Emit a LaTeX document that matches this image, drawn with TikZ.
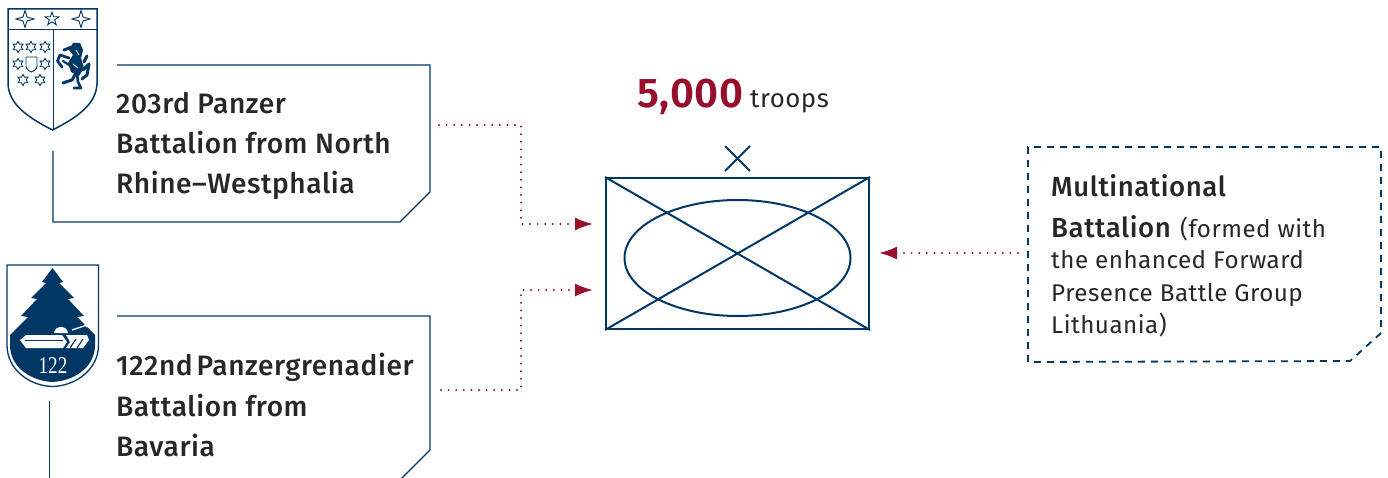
\documentclass[tikz,border=0pt]{standalone}
\usepackage{fontspec}
\setmainfont{Fira Sans}[LetterSpace=2]
\newfontfamily\medfont{Fira Sans Medium}[LetterSpace=2]
\newfontfamily\heavyfont{Fira Sans SemiBold}[LetterSpace=2]
\newfontfamily\romannum{Liberation Serif}
\definecolor{navy}{HTML}{003764}
\definecolor{crimson}{HTML}{970F2C}
\definecolor{ink}{HTML}{27272A}
\usetikzlibrary{arrows.meta}
\tikzset{
  x=1pt,y=-1pt,
  boxline/.style={draw=navy,line width=1.3pt},
  symline/.style={draw=navy,line width=2pt},
  dashbox/.style={draw=navy,line width=1.8pt,dash pattern=on 7pt off 6pt},
  link/.style={draw=crimson,line width=2.2pt,line cap=round,dash pattern=on 0pt off 7.6pt,-{Latex[length=18pt,width=13pt,color=crimson]}},
  boxlabel/.style={anchor=base west,inner sep=0pt,text=ink,font=\fontsize{28.1}{28.1}\medfont},
  sidelabel/.style={anchor=base west,inner sep=0pt,text=ink,font=\fontsize{27.6}{27.6}\medfont},
  plaintext/.style={anchor=base west,inner sep=0pt,text=ink,font=\fontsize{24.2}{24.2}\selectfont},
  starline/.style={draw=navy,line width=.9pt,fill=white},
  horse/.style={draw=navy,line cap=round,line join=round},
  pics/four/.style={code={\draw[starline] (0,-8.5) -- (2,-2) -- (9,0) -- (2,2) -- (0,8.5) -- (-2,2) -- (-9,0) -- (-2,-2) -- cycle;}},
  pics/five/.style={code={\draw[starline] (0,-7) -- (1.7,-2.2) -- (6.8,-2.2) -- (2.7,.9) -- (4.2,5.8) -- (0,2.8) -- (-4.2,5.8) -- (-2.7,.9) -- (-6.8,-2.2) -- (-1.7,-2.2) -- cycle;}},
  pics/six/.style={code={\draw[starline] (0,-5.5) -- (1.6,-2.8) -- (4.8,-2.8) -- (3.2,0) -- (4.8,2.8) -- (1.6,2.8) -- (0,5.5) -- (-1.6,2.8) -- (-4.8,2.8) -- (-3.2,0) -- (-4.8,-2.8) -- (-1.6,-2.8) -- cycle;}},
}
\begin{document}
\begin{tikzpicture}
\useasboundingbox (0,0) rectangle (1388,478);
\clip (0,0) rectangle (1388,478);

% first shield
\draw[navy,line width=1.5pt,fill=white] (8,9) -- (97,9) -- (97,84) .. controls (96,105) and (76,118) .. (52.5,130) .. controls (29,118) and (9,105) .. (8,84) -- cycle;
\draw[navy,line width=1pt] (8,30) -- (97,30) (53,30) -- (53,130);
\pic at (25,19) {four};
\pic at (52,19) {five};
\pic at (81,19) {four};
\foreach \px/\py in {18/47,31/47,45/47,18/64,45/64,23/80,40/80} \pic at (\px,\py) {six};
\draw[navy,line width=.9pt] (26,57) -- (37,57) -- (37,66) .. controls (37,70) and (33,71) .. (31.5,72) .. controls (30,71) and (26,70) .. (26,66) -- cycle;
% horse
\fill[navy] (69,50) -- (73,43) -- (80,43) -- (83,50) -- (81,58) -- (84,68) -- (79,76) -- (71,72) -- (68,63) -- (73,55) -- cycle;
\draw[horse,line width=3pt] (64,50) -- (72,47);
\draw[horse,line width=2.8pt] (69,58) -- (60,55) -- (57.5,61) -- (62,67);
\draw[horse,line width=2.2pt] (69,65) -- (63,61);
\draw[horse,line width=3pt] (76,73) -- (72,80) -- (63,83);
\draw[horse,line width=2.6pt] (77,73) -- (78,82) -- (81,88) -- (74,88);
\draw[horse,line width=3pt] (84,62) -- (87,56) (83,70) -- (89,64) -- (87,75) -- (82,79);
\draw[white,line width=.8pt] (73,64) -- (78,68) (76,50) -- (79,55);

% second shield
\draw[navy,line width=1.3pt,fill=white] (7,265) -- (98.5,265) -- (98.5,345) .. controls (98.5,370) and (75,386) .. (52.5,386.5) .. controls (30,386) and (7,370) .. (7,345) -- cycle;
\fill[navy] (52.5,268) -- (63,282) -- (59,283) -- (74,298) -- (68,299) -- (84,316) -- (77,317) -- (95,335) -- (95,345) .. controls (95,368) and (73,381) .. (52.5,382) .. controls (32,381) and (10,368) .. (10,345) -- (10,335) -- (28,317) -- (21,316) -- (37,299) -- (31,298) -- (46,283) -- (42,282) -- cycle;
\fill[white] (54,333) .. controls (55,325) and (67,325) .. (68,333) -- cycle;
\draw[white,line width=1.4pt] (72,330) -- (93,323) (84,322) -- (87,327);
\fill[white] (20,340) -- (26,335) -- (62,335) -- (67,342) -- (63,348) -- (26,348) -- cycle;
\fill[white] (66,335) -- (87,335) -- (89,340) -- (83,348) -- (66,348) -- (70,342) -- cycle;
\draw[navy,line width=.8pt] (25,340) -- (63,340);
\draw[navy,line width=1.2pt] (70,348) -- (76,339) (77,348) -- (83,339);
\node[inner sep=0pt,text=white,font=\fontsize{24}{24}\romannum] (num) at (53,366) {\scalebox{.8}[1]{122}};

% boxes
\path[boxline] (117,65) -- (430,65) -- (430,192) -- (400,222) -- (53,222) -- (53,151);
\path[boxline] (117,316) -- (430,316) -- (430,450) -- (402,478) -- (402,490);
\path[boxline] (49.5,401) -- (49.5,480);
\path[dashbox] (1028,362) -- (1028,147) -- (1381,147) -- (1381,333) -- (1350,361) -- cycle;

\node[boxlabel] (ta1) at (116,114) {203rd Panzer};
\node[boxlabel] (ta2) at (116,154) {Battalion from North};
\node[boxlabel] (ta3) at (116,194) {Rhine–Westphalia};
\node[boxlabel] (tb1) at (116,375.5) {122nd\hspace{4pt}Panzergrenadier};
\node[boxlabel] (tb2) at (116,416.5) {Battalion from};
\node[boxlabel] (tb3) at (116,456.5) {Bavaria};
\node[sidelabel] (tc1) at (1051,197) {Multinational};
\node[sidelabel] (tc2) at (1051,237) {Battalion};
\node[plaintext] (tc3) at (1180,237) {(formed with};
\node[plaintext] (tc4) at (1051,269) {the enhanced Forward};
\node[plaintext] (tc5) at (1051,301) {Presence Battle Group};
\node[plaintext] (tc6) at (1051,333) {Lithuania)};

% unit symbol
\node[symline,minimum width=263pt,minimum height=151pt,inner sep=0pt] (unit) at (737.5,253.5) {};
\draw[symline] (unit.north west) -- (unit.south east) (unit.north east) -- (unit.south west);
\draw[symline] (737.5,258) ellipse [x radius=113,y radius=58];
\coordinate (xa) at (725,146); \coordinate (xb) at (750,171);
\coordinate (xc) at (750,146); \coordinate (xd) at (725,171);
\draw[navy,line width=1.8pt] (xa) -- (xb) (xc) -- (xd);

\node[anchor=base west,inner sep=0pt,text=crimson,font=\fontsize{41.5}{41.5}\heavyfont] (num5) at (637,108) {5,000};
\node[plaintext,font=\fontsize{25.8}{25.8}\selectfont] (troops) at (750,108) {troops};

% connectors
\coordinate (la) at (439,125); \coordinate (lam) at (521,125); \coordinate (lan) at (521,224); \coordinate (lae) at (593,224);
\coordinate (lb) at (441,390); \coordinate (lbm) at (521,390); \coordinate (lbn) at (521,290); \coordinate (lbe) at (593,290);
\coordinate (lc) at (1018,253); \coordinate (lce) at (879,253);
\draw[link] (la) -- (lam) -- (lan) -- (lae);
\draw[link] (lb) -- (lbm) -- (lbn) -- (lbe);
\draw[link] (lc) -- (lce);
\end{tikzpicture}
\end{document}
